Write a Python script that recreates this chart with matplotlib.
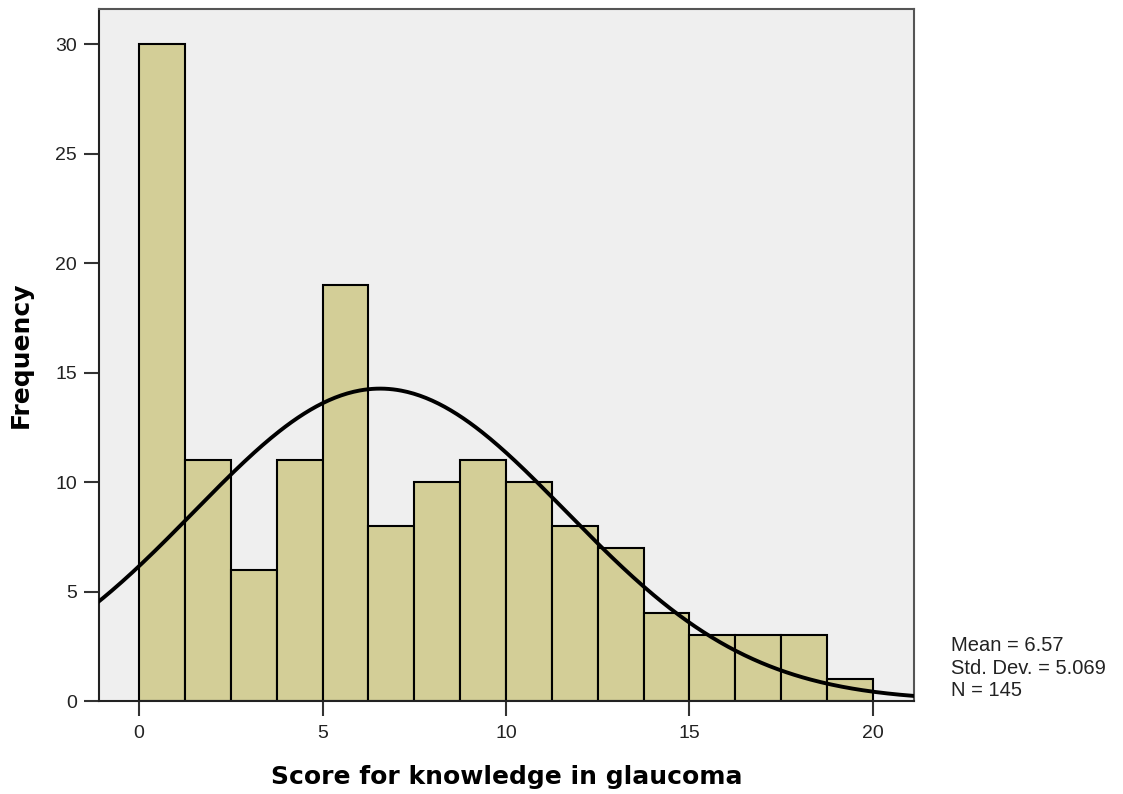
import numpy as np
import matplotlib
matplotlib.use('Agg')
import matplotlib.pyplot as plt

plt.rcParams['font.family'] = ['Liberation Sans', 'DejaVu Sans']

# Histogram data (bin width 1.25, 0 to 20)
bin_edges = [0, 1.25, 2.5, 3.75, 5, 6.25, 7.5, 8.75, 10, 11.25, 12.5, 13.75, 15, 16.25, 17.5, 18.75, 20]
counts = [30, 11, 6, 11, 19, 8, 10, 11, 10, 8, 7, 4, 3, 3, 3, 1]
mean = 6.57
std = 5.069
n = 145

fig = plt.figure(figsize=(11.23, 7.94), dpi=100)
ax = fig.add_axes([0.0882, 0.1171, 0.7257, 0.8716])
ax.set_facecolor('#efefef')

widths = np.diff(bin_edges)
ax.bar(bin_edges[:-1], counts, width=widths, align='edge',
       color='#d3ce97', edgecolor='black', linewidth=1.5, zorder=2)

# normal curve fitted from mean / sd, scaled to counts
xs = np.linspace(-1.2, 21.3, 400)
bw = bin_edges[1] - bin_edges[0]
ys = n * bw / (std * np.sqrt(2 * np.pi)) * np.exp(-0.5 * ((xs - mean) / std) ** 2)
ax.plot(xs, ys, color='black', linewidth=2.8, zorder=3)

ax.set_xlim(-1.09, 21.12)
ax.set_ylim(0, 31.6)
ax.set_xticks([0, 5, 10, 15, 20])
ax.set_yticks([0, 5, 10, 15, 20, 25, 30])
ax.tick_params(axis='both', labelsize=14, length=11, width=1.5, color='#333333', labelcolor='#222222')
ax.tick_params(axis='y', pad=5)
ax.tick_params(axis='x', pad=6)
for s in ax.spines.values():
    s.set_linewidth(1.5)
    s.set_color('#555555')
ax.spines['bottom'].set_color('#222222')
ax.spines['left'].set_color('#222222')

ax.set_xlabel('Score for knowledge in glaucoma', fontsize=18, fontweight='bold',
              family='DejaVu Sans', labelpad=17)
ax.set_ylabel('Frequency', fontsize=18, fontweight='bold', family='DejaVu Sans', labelpad=16)

fig.text(0.8468, 0.199, 'Mean = 6.57\nStd. Dev. = 5.069\nN = 145', fontsize=14.5,
         va='top', ha='left', linespacing=1.24, color='#222222')

fig.savefig('out.png', dpi=100)
